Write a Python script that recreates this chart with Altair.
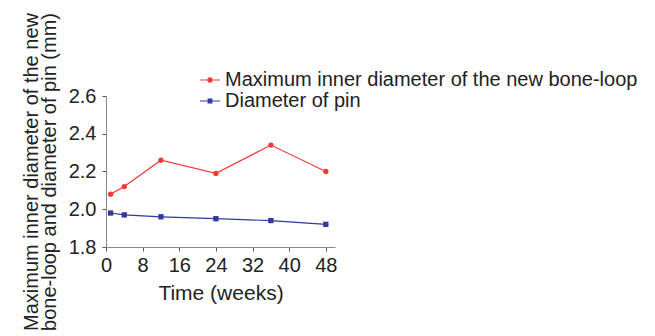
import altair as alt
import pandas as pd

weeks = [1, 4, 12, 24, 36, 48]
loop_diam = [2.08, 2.12, 2.26, 2.19, 2.34, 2.20]
pin_diam = [1.98, 1.97, 1.96, 1.95, 1.94, 1.92]
series = ["Maximum inner diameter of the new bone-loop", "Diameter of pin"]
colors = ["#f03a3a", "#2e3a9e"]
marker_shapes = ["circle", "square"]
# legend glyphs: a short line with the marker on it
legend_glyphs = [
    "M-1,-0.06H1V0.06H-1Z M-0.28,0A0.28,0.28,0,1,1,0.28,0A0.28,0.28,0,1,1,-0.28,0Z",
    "M-1,-0.06H1V0.06H-1Z M-0.24,-0.24H0.24V0.24H-0.24Z",
]

df = pd.DataFrame(
    {"week": weeks * 2,
     "value": loop_diam + pin_diam,
     "series": [series[0]] * len(weeks) + [series[1]] * len(weeks)}
)

FONT = "Liberation Sans"
cscale = alt.Scale(domain=series, range=colors)
legend_def = alt.Legend(
    orient="none", legendX=94, legendY=-26, title=None,
    labelFontSize=20, labelFont=FONT, labelColor="#222",
    symbolSize=400, symbolStrokeWidth=0, symbolOpacity=1,
    rowPadding=1, labelOffset=5, labelLimit=600)

x = alt.X("week:Q", scale=alt.Scale(domain=[0, 50], nice=False),
          axis=alt.Axis(values=[0, 8, 16, 24, 32, 40, 48], title="Time (weeks)",
                        grid=False, labelFontSize=20, titleFontSize=21,
                        labelFont=FONT, titleFont=FONT, titleFontWeight="normal",
                        tickSize=4, domainColor="#888", tickColor="#555",
                        labelColor="#222", titleColor="#222", labelPadding=4,
                        labelFlush=False, titlePadding=7))
y = alt.Y("value:Q", scale=alt.Scale(domain=[1.8, 2.6], nice=False, zero=False),
          axis=alt.Axis(values=[1.8, 2.0, 2.2, 2.4, 2.6], format=".1f",
                        title=["Maximum inner diameter of the new",
                               "bone-loop and diameter of pin (mm)"],
                        grid=False, labelFontSize=20, titleFontSize=20,
                        labelFont=FONT, titleFont=FONT, titleFontWeight="normal",
                        tickSize=4, domainColor="#888", tickColor="#555",
                        labelColor="#222", titleColor="#222", labelPadding=6,
                        labelFlush=False, titleLineHeight=18, titlePadding=9))

base = alt.Chart(df)

color = alt.Color("series:N", scale=cscale, title=None, legend=legend_def)

legend_layer = base.mark_point(filled=True, opacity=0, size=1).encode(
    x=x, y=y, color=color,
    shape=alt.Shape("series:N", scale=alt.Scale(domain=series, range=legend_glyphs),
                    title=None, legend=legend_def),
)

lines = base.mark_line(strokeWidth=1.2).encode(x=x, y=y, color=color)

pts = [
    base.transform_filter(alt.datum.series == s).mark_point(
        filled=True, size=28, opacity=1, shape=sh
    ).encode(x=x, y=y, color=color)
    for s, sh in zip(series, marker_shapes)
]

chart = (
    alt.layer(legend_layer, lines, *pts)
    .properties(width=229, height=151, background="white",
                autosize=alt.AutoSizeParams(type="none"),
                padding={"left": 98, "top": 88, "right": 310, "bottom": 90})
    .configure_view(stroke="transparent", strokeWidth=0)
)

chart.save("out.html", embed_options={"renderer": "svg", "actions": False})
